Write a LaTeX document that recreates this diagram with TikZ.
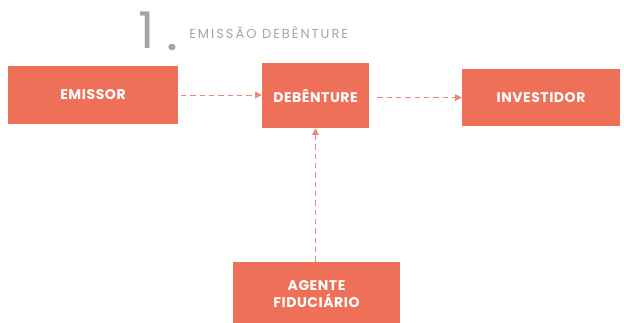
\documentclass[tikz,border=0pt]{standalone}
\usepackage{fontspec}
\setmainfont{Poppins}
\usetikzlibrary{arrows.meta}
\definecolor{salmon}{RGB}{238,112,88}
\definecolor{titlegrey}{RGB}{165,165,165}
\tikzset{
  px/.style={x=0.75pt,y=-0.75pt},
  box/.style={fill=salmon,draw=none,text=white,font=\bfseries\fontsize{10.5}{13}\selectfont\addfontfeatures{LetterSpace=4},align=center,inner sep=0pt},
  conn/.style={draw=salmon!85,dashed,dash pattern=on 4pt off 3pt,line width=0.7pt,-{Triangle[length=5pt,width=5pt]}}
}
\begin{document}
\begin{tikzpicture}[px]
\useasboundingbox (0,0) rectangle (624,323);
\node[box,minimum width=170*0.75pt,minimum height=58*0.75pt] (em) at (93,95) {EMISSOR};
\node[box,minimum width=107*0.75pt,minimum height=65*0.75pt] (deb) at (315.5,95.5) {DEBÊNTURE};
\node[box,minimum width=158*0.75pt,minimum height=57*0.75pt] (inv) at (541,97.5) {INVESTIDOR};
\node[box,minimum width=167*0.75pt,minimum height=64*0.75pt] (ag) at (316.5,294) {AGENTE\\FIDUCIÁRIO};
\node[text=titlegrey,font=\fontsize{38}{38}\selectfont,anchor=base west,inner sep=0pt] (one) at (138,49) {1};
\node[text=titlegrey,font=\bfseries\fontsize{26}{26}\selectfont,anchor=base west,inner sep=0pt] (dot) at (167,51) {.};
\node[text=titlegrey,font=\fontsize{9.8}{11}\selectfont\addfontfeatures{LetterSpace=15},anchor=base west,inner sep=0pt] (title) at (189,39) {EMISSÃO DEBÊNTURE};
\draw[conn] ([xshift=2pt]em.east) -- (deb.west |- em.east);
\draw[conn] ([xshift=6pt]deb.east |- inv.west) -- (inv.west);
\draw[conn] (ag.north -| deb.south) -- (deb.south);
\end{tikzpicture}
\end{document}
